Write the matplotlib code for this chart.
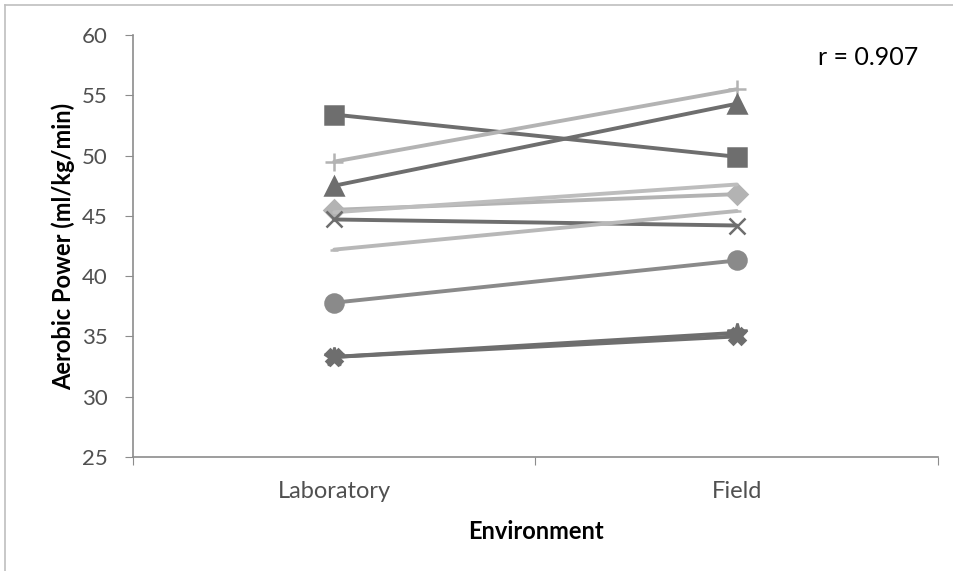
import matplotlib
matplotlib.use("Agg")
from matplotlib import pyplot as plt
from matplotlib.lines import Line2D

plt.rcParams['font.family'] = ['Lato', 'DejaVu Sans']

environments = ['Laboratory', 'Field']
lab_values = [53.4, 49.5, 47.5, 45.5, 45.3, 44.7, 42.2, 37.8, 33.3, 33.3]
field_values = [49.9, 55.5, 54.3, 46.8, 47.6, 44.2, 45.4, 41.3, 35.3, 35.0]
markers = ['s', '+', '^', 'D', 'None', 'x', '_', 'o', '*', 'X']
colors = ['#6e6e6e', '#b3b3b3', '#6e6e6e', '#b3b3b3', '#bdbdbd',
          '#6e6e6e', '#b8b8b8', '#8a8a8a', '#6e6e6e', '#6e6e6e']
marker_sizes = [13, 13, 13, 10, 8, 12, 6, 13, 15, 11]
r_text = 'r = 0.907'

fig = plt.figure(figsize=(9.54, 5.71), dpi=100)
# chart area border, only left and top edges are visible in the crop
fig.lines.append(Line2D([5 / 954, 5 / 954], [0, 1 - 5 / 571], transform=fig.transFigure,
                        color='#bfbfbf', linewidth=1.2))
fig.lines.append(Line2D([5 / 954, 1], [1 - 5 / 571, 1 - 5 / 571], transform=fig.transFigure,
                        color='#bfbfbf', linewidth=1.2))
ax = fig.add_axes([133 / 954, 1 - 457 / 571, (938 - 133) / 954, (457 - 35) / 571])

x = list(range(len(environments)))
for lab, field, m, c, ms in zip(lab_values, field_values, markers, colors, marker_sizes):
    ax.plot(x, [lab, field], color=c, linewidth=2.8, marker=m, markersize=ms,
            markeredgewidth=1.8, solid_capstyle='round')

ax.set_xlim(-0.5, 1.5)
ax.set_ylim(25, 60)
ax.set_yticks(range(25, 61, 5))
ax.set_xticks([-0.5, 0.5, 1.5])
ax.set_xticklabels([])
ax.set_xticks(x, minor=True)
ax.set_xticklabels(environments, minor=True)
ax.tick_params(axis='x', which='minor', length=0, pad=17, labelsize=17, colors='#505050')
ax.tick_params(axis='x', which='major', length=6, color='#8c8c8c', direction='out')
ax.tick_params(axis='y', length=6, color='#8c8c8c', labelsize=16, labelcolor='#505050', pad=12)

for side in ['top', 'right']:
    ax.spines[side].set_visible(False)
for side in ['left', 'bottom']:
    ax.spines[side].set_color('#8c8c8c')
    ax.spines[side].set_linewidth(1.2)

ax.set_xlabel('Environment', fontsize=17, fontweight='bold', labelpad=13)
ax.set_ylabel('Aerobic Power (ml/kg/min)', fontsize=17, fontweight='bold', labelpad=5)
ax.text(0.975, 0.975, r_text, transform=ax.transAxes, ha='right', va='top', fontsize=18)

fig.savefig('out.png', dpi=100)
